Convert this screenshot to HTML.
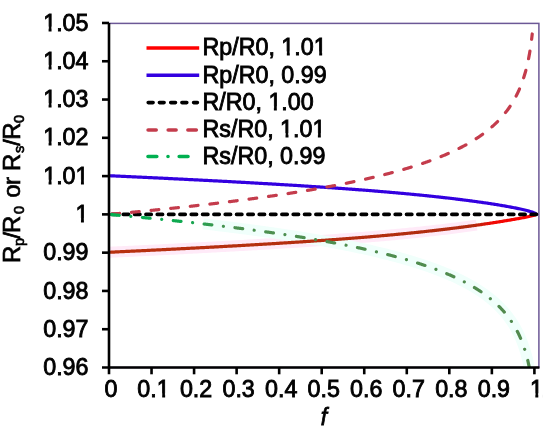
<!DOCTYPE html>
<html><head><meta charset="utf-8"><style>
html,body{margin:0;padding:0;background:#fff;}
svg{display:block;will-change:transform;}
text{font-family:"Liberation Sans",sans-serif;fill:#000;stroke:#000;font-kerning:none;white-space:pre;}
</style></head><body>
<svg width="550" height="433" viewBox="0 0 550 433">
<rect width="550" height="433" fill="#fff"/>
<defs><clipPath id="c"><rect x="109.0" y="23.4" width="429.9" height="344.1"/></clipPath><linearGradient id="gr" gradientUnits="userSpaceOnUse" x1="109" y1="0" x2="537" y2="0"><stop offset="0" stop-color="#B8300F"/><stop offset="0.85" stop-color="#B02C10"/><stop offset="0.895" stop-color="#F00A05"/><stop offset="1" stop-color="#FF0000"/></linearGradient><linearGradient id="gg" gradientUnits="userSpaceOnUse" x1="109" y1="0" x2="537" y2="0"><stop offset="0" stop-color="#00B050"/><stop offset="0.18" stop-color="#10A850"/><stop offset="0.28" stop-color="#4C9050"/><stop offset="1" stop-color="#528A4E"/></linearGradient></defs>
<rect x="109.0" y="23.4" width="429.9" height="344.1" fill="none" stroke="#6C5896" stroke-width="1.5"/>
<g clip-path="url(#c)" fill="none" stroke-width="3.2" stroke-linejoin="round">
<path d="M109.00,252.28 L110.84,252.19 L112.68,252.10 L114.51,252.02 L116.35,251.93 L118.19,251.84 L120.03,251.76 L121.87,251.67 L123.71,251.58 L125.54,251.49 L127.38,251.40 L129.22,251.32 L131.06,251.23 L132.90,251.14 L134.74,251.05 L136.57,250.96 L138.41,250.87 L140.25,250.78 L142.09,250.69 L143.93,250.60 L145.76,250.51 L147.60,250.42 L149.44,250.33 L151.28,250.24 L153.12,250.15 L154.96,250.06 L156.79,249.97 L158.63,249.88 L160.47,249.79 L162.31,249.69 L164.15,249.60 L165.99,249.51 L167.82,249.42 L169.66,249.32 L171.50,249.23 L173.34,249.14 L175.18,249.04 L177.02,248.95 L178.85,248.86 L180.69,248.76 L182.53,248.67 L184.37,248.57 L186.21,248.48 L188.04,248.38 L189.88,248.29 L191.72,248.19 L193.56,248.10 L195.40,248.00 L197.24,247.90 L199.07,247.81 L200.91,247.71 L202.75,247.61 L204.59,247.52 L206.43,247.42 L208.27,247.32 L210.10,247.22 L211.94,247.12 L213.78,247.02 L215.62,246.92 L217.46,246.82 L219.30,246.72 L221.13,246.62 L222.97,246.52 L224.81,246.42 L226.65,246.32 L228.49,246.22 L230.32,246.12 L232.16,246.02 L234.00,245.91 L235.84,245.81 L237.68,245.71 L239.52,245.60 L241.35,245.50 L243.19,245.40 L245.03,245.29 L246.87,245.19 L248.71,245.08 L250.55,244.97 L252.38,244.87 L254.22,244.76 L256.06,244.65 L257.90,244.55 L259.74,244.44 L261.57,244.33 L263.41,244.22 L265.25,244.11 L267.09,244.00 L268.93,243.89 L270.77,243.78 L272.60,243.67 L274.44,243.55 L276.28,243.44 L278.12,243.33 L279.96,243.22 L281.80,243.10 L283.63,242.99 L285.47,242.87 L287.31,242.76 L289.15,242.64 L290.99,242.52 L292.82,242.41 L294.66,242.29 L296.50,242.17 L298.34,242.05 L300.18,241.93 L302.02,241.81 L303.85,241.69 L305.69,241.57 L307.53,241.44 L309.37,241.32 L311.21,241.20 L313.05,241.07 L314.88,240.94 L316.72,240.82 L318.56,240.69 L320.40,240.56 L322.24,240.44 L324.08,240.31 L325.91,240.18 L327.75,240.05 L329.59,239.91 L331.43,239.78 L333.27,239.65 L335.10,239.51 L336.94,239.38 L338.78,239.24 L340.62,239.10 L342.46,238.97 L344.30,238.83 L346.13,238.69 L347.97,238.55 L349.81,238.40 L351.65,238.26 L353.49,238.12 L355.33,237.97 L357.16,237.83 L359.00,237.68 L360.84,237.53 L362.68,237.38 L364.52,237.23 L366.36,237.08 L368.19,236.93 L370.03,236.77 L371.87,236.62 L373.71,236.46 L375.55,236.31 L377.38,236.15 L379.22,235.99 L381.06,235.82 L382.90,235.66 L384.74,235.50 L386.58,235.33 L388.41,235.17 L390.25,235.00 L392.09,234.83 L393.93,234.66 L395.77,234.49 L397.61,234.31 L399.44,234.14 L401.28,233.96 L403.12,233.78 L404.96,233.60 L406.80,233.42 L408.63,233.24 L410.47,233.05 L412.31,232.87 L414.15,232.68 L415.99,232.49 L417.83,232.30 L419.66,232.11 L421.50,231.91 L423.34,231.71 L425.18,231.52 L427.02,231.32 L428.86,231.12 L430.69,230.91 L432.53,230.71 L434.37,230.50 L436.21,230.29 L438.05,230.08 L439.88,229.87 L441.72,229.65 L443.56,229.43 L445.40,229.21 L447.24,228.99 L449.08,228.77 L450.91,228.54 L452.75,228.32 L454.59,228.09 L456.43,227.86 L458.27,227.62 L460.11,227.39 L461.94,227.15 L463.78,226.91 L465.62,226.67 L467.46,226.42 L469.30,226.17 L471.14,225.92 L472.97,225.67 L474.81,225.42 L476.65,225.16" stroke="#FFEAF8" stroke-width="11"/>
<path d="M203.05,223.88 L204.15,224.01 L205.26,224.13 L206.36,224.26 L207.46,224.39 L208.57,224.52 L209.67,224.64 L210.77,224.77 L211.87,224.90 L212.98,225.03 L214.08,225.16 L215.18,225.29 L216.29,225.43 L217.39,225.56 L218.49,225.69 L219.60,225.82 L220.70,225.96 L221.80,226.09 L222.91,226.22 L224.01,226.36 L225.11,226.49 L226.21,226.63 L227.32,226.76 L228.42,226.90 L229.52,227.04 L230.63,227.17 L231.73,227.31 L232.83,227.45 L233.94,227.59 L235.04,227.73 L236.14,227.87 L237.24,228.01 L238.35,228.15 L239.45,228.29 L240.55,228.43 L241.66,228.58 L242.76,228.72 L243.86,228.86 L244.97,229.01 L246.07,229.15 L247.17,229.30 L248.28,229.44 L249.38,229.59 L250.48,229.73 L251.58,229.88 L252.69,230.03 L253.79,230.18 L254.89,230.33 L256.00,230.48 L257.10,230.63 L258.20,230.78 L259.31,230.93 L260.41,231.08 L261.51,231.23 L262.62,231.39 L263.72,231.54 L264.82,231.69 L265.92,231.85 L267.03,232.01 L268.13,232.16 L269.23,232.32 L270.34,232.48 L271.44,232.63 L272.54,232.79 L273.65,232.95 L274.75,233.11 L275.85,233.27 L276.96,233.44 L278.06,233.60 L279.16,233.76 L280.26,233.92 L281.37,234.09 L282.47,234.25 L283.57,234.42 L284.68,234.59 L285.78,234.75 L286.88,234.92 L287.99,235.09 L289.09,235.26 L290.19,235.43 L291.30,235.60 L292.40,235.77 L293.50,235.94 L294.60,236.12 L295.71,236.29 L296.81,236.47 L297.91,236.64 L299.02,236.82 L300.12,236.99 L301.22,237.17 L302.33,237.35 L303.43,237.53 L304.53,237.71 L305.63,237.89 L306.74,238.07 L307.84,238.26 L308.94,238.44 L310.05,238.63 L311.15,238.81 L312.25,239.00 L313.36,239.19 L314.46,239.38 L315.56,239.56 L316.67,239.75 L317.77,239.95 L318.87,240.14 L319.97,240.33 L321.08,240.53 L322.18,240.72 L323.28,240.92 L324.39,241.11 L325.49,241.31 L326.59,241.51 L327.70,241.71 L328.80,241.91 L329.90,242.12 L331.01,242.32 L332.11,242.52 L333.21,242.73 L334.31,242.94 L335.42,243.14 L336.52,243.35 L337.62,243.56 L338.73,243.77 L339.83,243.99 L340.93,244.20 L342.04,244.41 L343.14,244.63 L344.24,244.85 L345.35,245.07 L346.45,245.29 L347.55,245.51 L348.65,245.73 L349.76,245.95 L350.86,246.18 L351.96,246.40 L353.07,246.63 L354.17,246.86 L355.27,247.09 L356.38,247.32 L357.48,247.56 L358.58,247.79 L359.68,248.03 L360.79,248.26 L361.89,248.50 L362.99,248.74 L364.10,248.99 L365.20,249.23 L366.30,249.47 L367.41,249.72 L368.51,249.97 L369.61,250.22 L370.72,250.47 L371.82,250.72 L372.92,250.98 L374.02,251.23 L375.13,251.49 L376.23,251.75 L377.33,252.01 L378.44,252.28 L379.54,252.54 L380.64,252.81 L381.75,253.08 L382.85,253.35 L383.95,253.62 L385.06,253.90 L386.16,254.18 L387.26,254.45 L388.36,254.74 L389.47,255.02 L390.57,255.30 L391.67,255.59 L392.78,255.88 L393.88,256.17 L394.98,256.47 L396.09,256.76 L397.19,257.06 L398.29,257.36 L399.40,257.67 L400.50,257.97 L401.60,258.28 L402.70,258.59 L403.81,258.90 L404.91,259.22 L406.01,259.54 L407.12,259.86 L408.22,260.18 L409.32,260.51 L410.43,260.84 L411.53,261.17 L412.63,261.51 L413.74,261.84 L414.84,262.19 L415.94,262.53 L417.04,262.88 L418.15,263.23 L419.25,263.58 L420.35,263.94 L421.46,264.30 L422.56,264.66 L423.66,265.03 L424.77,265.40 L425.87,265.78 L426.97,266.16 L428.07,266.54 L429.18,266.92 L430.28,267.31 L431.38,267.71 L432.49,268.11 L433.59,268.51 L434.69,268.91 L435.80,269.33 L436.90,269.74 L438.00,270.16 L439.11,270.59 L440.21,271.02 L441.31,271.45 L442.41,271.89 L443.52,272.33 L444.62,272.78 L445.72,273.24 L446.83,273.70 L447.93,274.17 L449.03,274.64 L450.14,275.12 L451.24,275.60 L452.34,276.09 L453.45,276.59 L454.55,277.09 L455.65,277.60 L456.75,278.12 L457.86,278.64 L458.96,279.18 L460.06,279.71 L461.17,280.26 L462.27,280.82 L463.37,281.38 L464.48,281.95 L465.58,282.53 L466.68,283.12 L467.79,283.72 L468.89,284.33 L469.99,284.95 L471.09,285.57 L472.20,286.21 L473.30,286.86 L474.40,287.52 L475.51,288.20 L476.61,288.88 L477.71,289.58 L478.82,290.29 L479.92,291.02 L481.02,291.75 L482.13,292.51 L483.23,293.28 L484.33,294.06 L485.43,294.86 L486.54,295.68 L487.64,296.52 L488.74,297.37 L489.85,298.25 L490.95,299.14 L492.05,300.06 L493.16,301.00 L494.26,301.96 L495.36,302.95 L496.46,303.97 L497.57,305.01 L498.67,306.09 L499.77,307.19 L500.88,308.33 L501.98,309.51 L503.08,310.72 L504.19,311.97 L505.29,313.27 L506.39,314.61 L507.50,316.00 L508.60,317.44 L509.70,318.95 L510.80,320.51 L511.91,322.14 L513.01,323.85 L514.11,325.64 L515.22,327.52 L516.32,329.49 L517.42,331.58 L518.53,333.79 L519.63,336.14 L520.73,338.64 L521.84,341.33 L522.94,344.22 L524.04,347.36 L525.14,350.78 L526.25,354.55 L527.35,358.75 L528.45,363.48 L529.56,368.90 L530.66,375.25 L531.76,382.91 L532.87,392.60 L533.97,405.78" stroke="#F0FFFB" stroke-width="11"/>
<path d="M109.00,252.28 L110.07,252.23 L111.14,252.18 L112.21,252.13 L113.28,252.08 L114.34,252.03 L115.41,251.97 L116.48,251.92 L117.55,251.87 L118.62,251.82 L119.69,251.77 L120.76,251.72 L121.83,251.67 L122.89,251.62 L123.96,251.57 L125.03,251.52 L126.10,251.47 L127.17,251.41 L128.24,251.36 L129.31,251.31 L130.38,251.26 L131.44,251.21 L132.51,251.16 L133.58,251.11 L134.65,251.05 L135.72,251.00 L136.79,250.95 L137.86,250.90 L138.93,250.85 L139.99,250.80 L141.06,250.74 L142.13,250.69 L143.20,250.64 L144.27,250.59 L145.34,250.53 L146.41,250.48 L147.47,250.43 L148.54,250.38 L149.61,250.32 L150.68,250.27 L151.75,250.22 L152.82,250.17 L153.89,250.11 L154.96,250.06 L156.03,250.01 L157.09,249.95 L158.16,249.90 L159.23,249.85 L160.30,249.79 L161.37,249.74 L162.44,249.69 L163.51,249.63 L164.57,249.58 L165.64,249.53 L166.71,249.47 L167.78,249.42 L168.85,249.37 L169.92,249.31 L170.99,249.26 L172.06,249.20 L173.12,249.15 L174.19,249.09 L175.26,249.04 L176.33,248.99 L177.40,248.93 L178.47,248.88 L179.54,248.82 L180.61,248.77 L181.68,248.71 L182.74,248.66 L183.81,248.60 L184.88,248.55 L185.95,248.49 L187.02,248.44 L188.09,248.38 L189.16,248.33 L190.22,248.27 L191.29,248.22 L192.36,248.16 L193.43,248.10 L194.50,248.05 L195.57,247.99 L196.64,247.94 L197.71,247.88 L198.77,247.82 L199.84,247.77 L200.91,247.71 L201.98,247.65 L203.05,247.60 L204.12,247.54 L205.19,247.48 L206.26,247.43 L207.32,247.37 L208.39,247.31 L209.46,247.26 L210.53,247.20 L211.60,247.14 L212.67,247.08 L213.74,247.03 L214.81,246.97 L215.88,246.91 L216.94,246.85 L218.01,246.79 L219.08,246.74 L220.15,246.68 L221.22,246.62 L222.29,246.56 L223.36,246.50 L224.43,246.44 L225.49,246.39 L226.56,246.33 L227.63,246.27 L228.70,246.21 L229.77,246.15 L230.84,246.09 L231.91,246.03 L232.97,245.97 L234.04,245.91 L235.11,245.85 L236.18,245.79 L237.25,245.73 L238.32,245.67 L239.39,245.61 L240.46,245.55 L241.53,245.49 L242.59,245.43 L243.66,245.37 L244.73,245.31 L245.80,245.25 L246.87,245.19 L247.94,245.12 L249.01,245.06 L250.08,245.00 L251.14,244.94 L252.21,244.88 L253.28,244.81 L254.35,244.75 L255.42,244.69 L256.49,244.63 L257.56,244.57 L258.62,244.50 L259.69,244.44 L260.76,244.38 L261.83,244.31 L262.90,244.25 L263.97,244.19 L265.04,244.12 L266.11,244.06 L267.18,243.99 L268.24,243.93 L269.31,243.87 L270.38,243.80 L271.45,243.74 L272.52,243.67 L273.59,243.61 L274.66,243.54 L275.73,243.48 L276.79,243.41 L277.86,243.35 L278.93,243.28 L280.00,243.21 L281.07,243.15 L282.14,243.08 L283.21,243.01 L284.27,242.95 L285.34,242.88 L286.41,242.81 L287.48,242.75 L288.55,242.68 L289.62,242.61 L290.69,242.54 L291.76,242.47 L292.82,242.41 L293.89,242.34 L294.96,242.27 L296.03,242.20 L297.10,242.13 L298.17,242.06 L299.24,241.99 L300.31,241.92 L301.38,241.85 L302.44,241.78 L303.51,241.71 L304.58,241.64 L305.65,241.57 L306.72,241.50 L307.79,241.43 L308.86,241.35 L309.92,241.28 L310.99,241.21 L312.06,241.14 L313.13,241.06 L314.20,240.99 L315.27,240.92 L316.34,240.85 L317.41,240.77 L318.48,240.70 L319.54,240.62 L320.61,240.55 L321.68,240.47 L322.75,240.40 L323.82,240.32 L324.89,240.25 L325.96,240.17 L327.02,240.10 L328.09,240.02 L329.16,239.94 L330.23,239.87 L331.30,239.79 L332.37,239.71 L333.44,239.63 L334.51,239.56 L335.58,239.48 L336.64,239.40 L337.71,239.32 L338.78,239.24 L339.85,239.16 L340.92,239.08 L341.99,239.00 L343.06,238.92 L344.12,238.84 L345.19,238.76 L346.26,238.68 L347.33,238.60 L348.40,238.51 L349.47,238.43 L350.54,238.35 L351.61,238.27 L352.67,238.18 L353.74,238.10 L354.81,238.01 L355.88,237.93 L356.95,237.84 L358.02,237.76 L359.09,237.67 L360.16,237.59 L361.23,237.50 L362.29,237.41 L363.36,237.33 L364.43,237.24 L365.50,237.15 L366.57,237.06 L367.64,236.97 L368.71,236.88 L369.77,236.80 L370.84,236.71 L371.91,236.62 L372.98,236.52 L374.05,236.43 L375.12,236.34 L376.19,236.25 L377.26,236.16 L378.32,236.06 L379.39,235.97 L380.46,235.88 L381.53,235.78 L382.60,235.69 L383.67,235.59 L384.74,235.50 L385.81,235.40 L386.88,235.31 L387.94,235.21 L389.01,235.11 L390.08,235.01 L391.15,234.92 L392.22,234.82 L393.29,234.72 L394.36,234.62 L395.43,234.52 L396.49,234.42 L397.56,234.32 L398.63,234.21 L399.70,234.11 L400.77,234.01 L401.84,233.91 L402.91,233.80 L403.97,233.70 L405.04,233.59 L406.11,233.49 L407.18,233.38 L408.25,233.28 L409.32,233.17 L410.39,233.06 L411.46,232.95 L412.52,232.85 L413.59,232.74 L414.66,232.63 L415.73,232.52 L416.80,232.41 L417.87,232.29 L418.94,232.18 L420.01,232.07 L421.07,231.96 L422.14,231.84 L423.21,231.73 L424.28,231.61 L425.35,231.50 L426.42,231.38 L427.49,231.27 L428.56,231.15 L429.62,231.03 L430.69,230.91 L431.76,230.79 L432.83,230.67 L433.90,230.55 L434.97,230.43 L436.04,230.31 L437.11,230.19 L438.18,230.06 L439.24,229.94 L440.31,229.82 L441.38,229.69 L442.45,229.56 L443.52,229.44 L444.59,229.31 L445.66,229.18 L446.73,229.06 L447.79,228.93 L448.86,228.80 L449.93,228.67 L451.00,228.53 L452.07,228.40 L453.14,228.27 L454.21,228.14 L455.28,228.00 L456.34,227.87 L457.41,227.73 L458.48,227.60 L459.55,227.46 L460.62,227.32 L461.69,227.18 L462.76,227.04 L463.82,226.90 L464.89,226.76 L465.96,226.62 L467.03,226.48 L468.10,226.33 L469.17,226.19 L470.24,226.05 L471.31,225.90 L472.38,225.75 L473.44,225.61 L474.51,225.46 L475.58,225.31 L476.65,225.16 L477.72,225.01 L478.79,224.86 L479.86,224.71 L480.93,224.55 L481.99,224.40 L483.06,224.24 L484.13,224.09 L485.20,223.93 L486.27,223.78 L487.34,223.62 L488.41,223.46 L489.48,223.30 L490.54,223.14 L491.61,222.97 L492.68,222.81 L493.75,222.65 L494.82,222.48 L495.89,222.32 L496.96,222.15 L498.03,221.98 L499.09,221.81 L500.16,221.64 L501.23,221.47 L502.30,221.30 L503.37,221.13 L504.44,220.95 L505.51,220.78 L506.58,220.60 L507.64,220.42 L508.71,220.24 L509.78,220.06 L510.85,219.88 L511.92,219.69 L512.99,219.51 L514.06,219.32 L515.12,219.13 L516.19,218.94 L517.26,218.75 L518.33,218.56 L519.40,218.36 L520.47,218.17 L521.54,217.96 L522.61,217.76 L523.67,217.56 L524.74,217.35 L525.81,217.13 L526.88,216.92 L527.95,216.70 L529.02,216.47 L530.09,216.24 L531.16,215.99 L532.23,215.74 L533.29,215.48 L534.36,215.19 L535.43,214.86 L536.50,214.38" stroke="url(#gr)"/>
<path d="M109.00,175.72 L110.07,175.77 L111.14,175.81 L112.21,175.86 L113.28,175.91 L114.34,175.96 L115.41,176.01 L116.48,176.06 L117.55,176.11 L118.62,176.15 L119.69,176.20 L120.76,176.25 L121.83,176.30 L122.89,176.35 L123.96,176.40 L125.03,176.45 L126.10,176.50 L127.17,176.55 L128.24,176.60 L129.31,176.65 L130.38,176.70 L131.44,176.75 L132.51,176.80 L133.58,176.85 L134.65,176.90 L135.72,176.94 L136.79,176.99 L137.86,177.04 L138.93,177.09 L139.99,177.15 L141.06,177.20 L142.13,177.25 L143.20,177.30 L144.27,177.35 L145.34,177.40 L146.41,177.45 L147.47,177.50 L148.54,177.55 L149.61,177.60 L150.68,177.65 L151.75,177.70 L152.82,177.75 L153.89,177.80 L154.96,177.85 L156.03,177.91 L157.09,177.96 L158.16,178.01 L159.23,178.06 L160.30,178.11 L161.37,178.16 L162.44,178.21 L163.51,178.27 L164.57,178.32 L165.64,178.37 L166.71,178.42 L167.78,178.47 L168.85,178.53 L169.92,178.58 L170.99,178.63 L172.06,178.68 L173.12,178.74 L174.19,178.79 L175.26,178.84 L176.33,178.89 L177.40,178.95 L178.47,179.00 L179.54,179.05 L180.61,179.10 L181.68,179.16 L182.74,179.21 L183.81,179.26 L184.88,179.32 L185.95,179.37 L187.02,179.42 L188.09,179.48 L189.16,179.53 L190.22,179.58 L191.29,179.64 L192.36,179.69 L193.43,179.75 L194.50,179.80 L195.57,179.85 L196.64,179.91 L197.71,179.96 L198.77,180.02 L199.84,180.07 L200.91,180.13 L201.98,180.18 L203.05,180.24 L204.12,180.29 L205.19,180.35 L206.26,180.40 L207.32,180.46 L208.39,180.51 L209.46,180.57 L210.53,180.62 L211.60,180.68 L212.67,180.73 L213.74,180.79 L214.81,180.85 L215.88,180.90 L216.94,180.96 L218.01,181.01 L219.08,181.07 L220.15,181.13 L221.22,181.18 L222.29,181.24 L223.36,181.30 L224.43,181.35 L225.49,181.41 L226.56,181.47 L227.63,181.52 L228.70,181.58 L229.77,181.64 L230.84,181.70 L231.91,181.75 L232.97,181.81 L234.04,181.87 L235.11,181.93 L236.18,181.99 L237.25,182.04 L238.32,182.10 L239.39,182.16 L240.46,182.22 L241.53,182.28 L242.59,182.34 L243.66,182.40 L244.73,182.45 L245.80,182.51 L246.87,182.57 L247.94,182.63 L249.01,182.69 L250.08,182.75 L251.14,182.81 L252.21,182.87 L253.28,182.93 L254.35,182.99 L255.42,183.05 L256.49,183.11 L257.56,183.17 L258.62,183.23 L259.69,183.29 L260.76,183.36 L261.83,183.42 L262.90,183.48 L263.97,183.54 L265.04,183.60 L266.11,183.66 L267.18,183.72 L268.24,183.79 L269.31,183.85 L270.38,183.91 L271.45,183.97 L272.52,184.04 L273.59,184.10 L274.66,184.16 L275.73,184.22 L276.79,184.29 L277.86,184.35 L278.93,184.42 L280.00,184.48 L281.07,184.54 L282.14,184.61 L283.21,184.67 L284.27,184.74 L285.34,184.80 L286.41,184.87 L287.48,184.93 L288.55,185.00 L289.62,185.06 L290.69,185.13 L291.76,185.19 L292.82,185.26 L293.89,185.32 L294.96,185.39 L296.03,185.46 L297.10,185.52 L298.17,185.59 L299.24,185.66 L300.31,185.72 L301.38,185.79 L302.44,185.86 L303.51,185.93 L304.58,185.99 L305.65,186.06 L306.72,186.13 L307.79,186.20 L308.86,186.27 L309.92,186.34 L310.99,186.41 L312.06,186.48 L313.13,186.55 L314.20,186.62 L315.27,186.69 L316.34,186.76 L317.41,186.83 L318.48,186.90 L319.54,186.97 L320.61,187.04 L321.68,187.11 L322.75,187.18 L323.82,187.25 L324.89,187.33 L325.96,187.40 L327.02,187.47 L328.09,187.55 L329.16,187.62 L330.23,187.69 L331.30,187.77 L332.37,187.84 L333.44,187.91 L334.51,187.99 L335.58,188.06 L336.64,188.14 L337.71,188.21 L338.78,188.29 L339.85,188.36 L340.92,188.44 L341.99,188.52 L343.06,188.59 L344.12,188.67 L345.19,188.75 L346.26,188.83 L347.33,188.90 L348.40,188.98 L349.47,189.06 L350.54,189.14 L351.61,189.22 L352.67,189.30 L353.74,189.38 L354.81,189.46 L355.88,189.54 L356.95,189.62 L358.02,189.70 L359.09,189.78 L360.16,189.86 L361.23,189.94 L362.29,190.02 L363.36,190.11 L364.43,190.19 L365.50,190.27 L366.57,190.36 L367.64,190.44 L368.71,190.53 L369.77,190.61 L370.84,190.69 L371.91,190.78 L372.98,190.87 L374.05,190.95 L375.12,191.04 L376.19,191.13 L377.26,191.21 L378.32,191.30 L379.39,191.39 L380.46,191.48 L381.53,191.57 L382.60,191.65 L383.67,191.74 L384.74,191.83 L385.81,191.92 L386.88,192.02 L387.94,192.11 L389.01,192.20 L390.08,192.29 L391.15,192.38 L392.22,192.48 L393.29,192.57 L394.36,192.66 L395.43,192.76 L396.49,192.85 L397.56,192.95 L398.63,193.04 L399.70,193.14 L400.77,193.24 L401.84,193.33 L402.91,193.43 L403.97,193.53 L405.04,193.63 L406.11,193.73 L407.18,193.83 L408.25,193.93 L409.32,194.03 L410.39,194.13 L411.46,194.23 L412.52,194.33 L413.59,194.43 L414.66,194.54 L415.73,194.64 L416.80,194.74 L417.87,194.85 L418.94,194.95 L420.01,195.06 L421.07,195.17 L422.14,195.27 L423.21,195.38 L424.28,195.49 L425.35,195.60 L426.42,195.71 L427.49,195.82 L428.56,195.93 L429.62,196.04 L430.69,196.15 L431.76,196.26 L432.83,196.38 L433.90,196.49 L434.97,196.61 L436.04,196.72 L437.11,196.84 L438.18,196.95 L439.24,197.07 L440.31,197.19 L441.38,197.31 L442.45,197.43 L443.52,197.54 L444.59,197.67 L445.66,197.79 L446.73,197.91 L447.79,198.03 L448.86,198.16 L449.93,198.28 L451.00,198.40 L452.07,198.53 L453.14,198.66 L454.21,198.78 L455.28,198.91 L456.34,199.04 L457.41,199.17 L458.48,199.30 L459.55,199.43 L460.62,199.57 L461.69,199.70 L462.76,199.83 L463.82,199.97 L464.89,200.11 L465.96,200.24 L467.03,200.38 L468.10,200.52 L469.17,200.66 L470.24,200.80 L471.31,200.94 L472.38,201.08 L473.44,201.23 L474.51,201.37 L475.58,201.52 L476.65,201.67 L477.72,201.81 L478.79,201.96 L479.86,202.11 L480.93,202.26 L481.99,202.42 L483.06,202.57 L484.13,202.73 L485.20,202.88 L486.27,203.04 L487.34,203.20 L488.41,203.36 L489.48,203.52 L490.54,203.68 L491.61,203.85 L492.68,204.01 L493.75,204.18 L494.82,204.35 L495.89,204.52 L496.96,204.69 L498.03,204.87 L499.09,205.04 L500.16,205.22 L501.23,205.40 L502.30,205.58 L503.37,205.76 L504.44,205.95 L505.51,206.13 L506.58,206.32 L507.64,206.51 L508.71,206.71 L509.78,206.90 L510.85,207.10 L511.92,207.31 L512.99,207.51 L514.06,207.72 L515.12,207.93 L516.19,208.14 L517.26,208.36 L518.33,208.58 L519.40,208.81 L520.47,209.04 L521.54,209.28 L522.61,209.52 L523.67,209.77 L524.74,210.02 L525.81,210.28 L526.88,210.55 L527.95,210.83 L529.02,211.13 L530.09,211.43 L531.16,211.76 L532.23,212.11 L533.29,212.49 L534.36,212.91 L535.43,213.43 L536.50,214.38" stroke="#3300E0"/>
<path d="M100.57,214.38 L541.90,214.38" stroke="#000" stroke-width="3.6" stroke-linecap="round" stroke-dasharray="5.4 5.93"/>
<path d="M109.00,214.38 L109.53,214.33 L110.06,214.29 L110.59,214.24 L111.12,214.19 L111.65,214.14 L112.17,214.09 L112.70,214.05 L113.23,214.00 L113.76,213.95 L114.29,213.90 L114.82,213.86 L115.35,213.81 L115.88,213.76 L116.41,213.71 L116.94,213.66 L117.46,213.61 L117.99,213.57 L118.52,213.52 L119.05,213.47 L119.58,213.42 L120.11,213.37 L120.64,213.32 L121.17,213.27 L121.70,213.23 L122.23,213.18 L122.75,213.13 L123.28,213.08 L123.81,213.03 L124.34,212.98 L124.87,212.93 L125.40,212.88 L125.93,212.83 L126.46,212.78 L126.99,212.73 L127.52,212.68 L128.05,212.64 L128.57,212.59 L129.10,212.54 L129.63,212.49 L130.16,212.44 L130.69,212.39 L131.22,212.34 L131.75,212.29 L132.28,212.24 L132.81,212.19 L133.34,212.14 L133.86,212.09 L134.39,212.04 L134.92,211.98 L135.45,211.93 L135.98,211.88 L136.51,211.83 L137.04,211.78 L137.57,211.73 L138.10,211.68 L138.63,211.63 L139.15,211.58 L139.68,211.53 L140.21,211.48 L140.74,211.43 L141.27,211.37 L141.80,211.32 L142.33,211.27 L142.86,211.22 L143.39,211.17 L143.92,211.12 L144.45,211.07 L144.97,211.01 L145.50,210.96 L146.03,210.91 L146.56,210.86 L147.09,210.81 L147.62,210.75 L148.15,210.70 L148.68,210.65 L149.21,210.60 L149.74,210.54 L150.26,210.49 L150.79,210.44 L151.32,210.39 L151.85,210.33 L152.38,210.28 L152.91,210.23 L153.44,210.18 L153.97,210.12 L154.50,210.07 L155.03,210.02 L155.55,209.96 L156.08,209.91 L156.61,209.86 L157.14,209.80 L157.67,209.75 L158.20,209.70 L158.73,209.64 L159.26,209.59 L159.79,209.54 L160.32,209.48 L160.85,209.43 L161.37,209.37 L161.90,209.32 L162.43,209.27 L162.96,209.21 L163.49,209.16 L164.02,209.10 L164.55,209.05 L165.08,208.99 L165.61,208.94 L166.14,208.88 L166.66,208.83 L167.19,208.77 L167.72,208.72 L168.25,208.66 L168.78,208.61 L169.31,208.55 L169.84,208.50 L170.37,208.44 L170.90,208.39 L171.43,208.33 L171.95,208.28 L172.48,208.22 L173.01,208.17 L173.54,208.11 L174.07,208.05 L174.60,208.00 L175.13,207.94 L175.66,207.89 L176.19,207.83 L176.72,207.77 L177.25,207.72 L177.77,207.66 L178.30,207.60 L178.83,207.55 L179.36,207.49 L179.89,207.43 L180.42,207.38 L180.95,207.32 L181.48,207.26 L182.01,207.20 L182.54,207.15 L183.06,207.09 L183.59,207.03 L184.12,206.98 L184.65,206.92 L185.18,206.86 L185.71,206.80 L186.24,206.74 L186.77,206.69 L187.30,206.63 L187.83,206.57 L188.35,206.51 L188.88,206.45 L189.41,206.39 L189.94,206.34 L190.47,206.28 L191.00,206.22 L191.53,206.16 L192.06,206.10 L192.59,206.04 L193.12,205.98 L193.65,205.92 L194.17,205.87 L194.70,205.81 L195.23,205.75 L195.76,205.69 L196.29,205.63 L196.82,205.57 L197.35,205.51 L197.88,205.45 L198.41,205.39 L198.94,205.33 L199.46,205.27 L199.99,205.21 L200.52,205.15 L201.05,205.09 L201.58,205.03 L202.11,204.97 L202.64,204.90 L203.17,204.84 L203.70,204.78 L204.23,204.72 L204.75,204.66 L205.28,204.60 L205.81,204.54 L206.34,204.48 L206.87,204.41 L207.40,204.35 L207.93,204.29 L208.46,204.23 L208.99,204.17 L209.52,204.11 L210.04,204.04 L210.57,203.98 L211.10,203.92 L211.63,203.86 L212.16,203.79 L212.69,203.73 L213.22,203.67 L213.75,203.61 L214.28,203.54 L214.81,203.48 L215.34,203.42 L215.86,203.35 L216.39,203.29 L216.92,203.23 L217.45,203.16 L217.98,203.10 L218.51,203.03 L219.04,202.97 L219.57,202.91 L220.10,202.84 L220.63,202.78 L221.15,202.71 L221.68,202.65 L222.21,202.59 L222.74,202.52 L223.27,202.46 L223.80,202.39 L224.33,202.33 L224.86,202.26 L225.39,202.20 L225.92,202.13 L226.44,202.06 L226.97,202.00 L227.50,201.93 L228.03,201.87 L228.56,201.80 L229.09,201.74 L229.62,201.67 L230.15,201.60 L230.68,201.54 L231.21,201.47 L231.74,201.40 L232.26,201.34 L232.79,201.27 L233.32,201.20 L233.85,201.14 L234.38,201.07 L234.91,201.00 L235.44,200.93 L235.97,200.87 L236.50,200.80 L237.03,200.73 L237.55,200.66 L238.08,200.59 L238.61,200.53 L239.14,200.46 L239.67,200.39 L240.20,200.32 L240.73,200.25 L241.26,200.18 L241.79,200.12 L242.32,200.05 L242.84,199.98 L243.37,199.91 L243.90,199.84 L244.43,199.77 L244.96,199.70 L245.49,199.63 L246.02,199.56 L246.55,199.49 L247.08,199.42 L247.61,199.35 L248.14,199.28 L248.66,199.21 L249.19,199.14 L249.72,199.07 L250.25,199.00 L250.78,198.92 L251.31,198.85 L251.84,198.78 L252.37,198.71 L252.90,198.64 L253.43,198.57 L253.95,198.49 L254.48,198.42 L255.01,198.35 L255.54,198.28 L256.07,198.21 L256.60,198.13 L257.13,198.06 L257.66,197.99 L258.19,197.91 L258.72,197.84 L259.24,197.77 L259.77,197.69 L260.30,197.62 L260.83,197.55 L261.36,197.47 L261.89,197.40 L262.42,197.33 L262.95,197.25 L263.48,197.18 L264.01,197.10 L264.54,197.03 L265.06,196.95 L265.59,196.88 L266.12,196.80 L266.65,196.73 L267.18,196.65 L267.71,196.58 L268.24,196.50 L268.77,196.42 L269.30,196.35 L269.83,196.27 L270.35,196.20 L270.88,196.12 L271.41,196.04 L271.94,195.97 L272.47,195.89 L273.00,195.81 L273.53,195.73 L274.06,195.66 L274.59,195.58 L275.12,195.50 L275.64,195.42 L276.17,195.35 L276.70,195.27 L277.23,195.19 L277.76,195.11 L278.29,195.03 L278.82,194.95 L279.35,194.87 L279.88,194.79 L280.41,194.71 L280.94,194.64 L281.46,194.56 L281.99,194.48 L282.52,194.40 L283.05,194.32 L283.58,194.23 L284.11,194.15 L284.64,194.07 L285.17,193.99 L285.70,193.91 L286.23,193.83 L286.75,193.75 L287.28,193.67 L287.81,193.59 L288.34,193.50 L288.87,193.42 L289.40,193.34 L289.93,193.26 L290.46,193.17 L290.99,193.09 L291.52,193.01 L292.04,192.92 L292.57,192.84 L293.10,192.76 L293.63,192.67 L294.16,192.59 L294.69,192.51 L295.22,192.42 L295.75,192.34 L296.28,192.25 L296.81,192.17 L297.34,192.08 L297.86,192.00 L298.39,191.91 L298.92,191.83 L299.45,191.74 L299.98,191.65 L300.51,191.57 L301.04,191.48 L301.57,191.39 L302.10,191.31 L302.63,191.22 L303.15,191.13 L303.68,191.05 L304.21,190.96 L304.74,190.87 L305.27,190.78 L305.80,190.69 L306.33,190.61 L306.86,190.52 L307.39,190.43 L307.92,190.34 L308.44,190.25 L308.97,190.16 L309.50,190.07 L310.03,189.98 L310.56,189.89 L311.09,189.80 L311.62,189.71 L312.15,189.62 L312.68,189.53 L313.21,189.44 L313.74,189.35 L314.26,189.25 L314.79,189.16 L315.32,189.07 L315.85,188.98 L316.38,188.89 L316.91,188.79 L317.44,188.70 L317.97,188.61 L318.50,188.51 L319.03,188.42 L319.55,188.33 L320.08,188.23 L320.61,188.14 L321.14,188.04 L321.67,187.95 L322.20,187.85 L322.73,187.76 L323.26,187.66 L323.79,187.57 L324.32,187.47 L324.84,187.37 L325.37,187.28 L325.90,187.18 L326.43,187.08 L326.96,186.99 L327.49,186.89 L328.02,186.79 L328.55,186.69 L329.08,186.60 L329.61,186.50 L330.14,186.40 L330.66,186.30 L331.19,186.20 L331.72,186.10 L332.25,186.00 L332.78,185.90 L333.31,185.80 L333.84,185.70 L334.37,185.60 L334.90,185.50 L335.43,185.40 L335.95,185.30 L336.48,185.19 L337.01,185.09 L337.54,184.99 L338.07,184.89 L338.60,184.78 L339.13,184.68 L339.66,184.58 L340.19,184.47 L340.72,184.37 L341.24,184.26 L341.77,184.16 L342.30,184.05 L342.83,183.95 L343.36,183.84 L343.89,183.74 L344.42,183.63 L344.95,183.53 L345.48,183.42 L346.01,183.31 L346.54,183.20 L347.06,183.10 L347.59,182.99 L348.12,182.88 L348.65,182.77 L349.18,182.66 L349.71,182.55 L350.24,182.44 L350.77,182.33 L351.30,182.22 L351.83,182.11 L352.35,182.00 L352.88,181.89 L353.41,181.78 L353.94,181.67 L354.47,181.56 L355.00,181.44 L355.53,181.33 L356.06,181.22 L356.59,181.11 L357.12,180.99 L357.64,180.88 L358.17,180.76 L358.70,180.65 L359.23,180.53 L359.76,180.42 L360.29,180.30 L360.82,180.19 L361.35,180.07 L361.88,179.95 L362.41,179.84 L362.94,179.72 L363.46,179.60 L363.99,179.48 L364.52,179.36 L365.05,179.24 L365.58,179.13 L366.11,179.01 L366.64,178.89 L367.17,178.76 L367.70,178.64 L368.23,178.52 L368.75,178.40 L369.28,178.28 L369.81,178.16 L370.34,178.03 L370.87,177.91 L371.40,177.79 L371.93,177.66 L372.46,177.54 L372.99,177.41 L373.52,177.29 L374.04,177.16 L374.57,177.04 L375.10,176.91 L375.63,176.78 L376.16,176.66 L376.69,176.53 L377.22,176.40 L377.75,176.27 L378.28,176.14 L378.81,176.01 L379.33,175.88 L379.86,175.75 L380.39,175.62 L380.92,175.49 L381.45,175.36 L381.98,175.23 L382.51,175.09 L383.04,174.96 L383.57,174.83 L384.10,174.69 L384.63,174.56 L385.15,174.42 L385.68,174.29 L386.21,174.15 L386.74,174.02 L387.27,173.88 L387.80,173.74 L388.33,173.60 L388.86,173.47 L389.39,173.33 L389.92,173.19 L390.44,173.05 L390.97,172.91 L391.50,172.77 L392.03,172.62 L392.56,172.48 L393.09,172.34 L393.62,172.20 L394.15,172.05 L394.68,171.91 L395.21,171.76 L395.73,171.62 L396.26,171.47 L396.79,171.33 L397.32,171.18 L397.85,171.03 L398.38,170.88 L398.91,170.74 L399.44,170.59 L399.97,170.44 L400.50,170.29 L401.03,170.14 L401.55,169.98 L402.08,169.83 L402.61,169.68 L403.14,169.53 L403.67,169.37 L404.20,169.22 L404.73,169.06 L405.26,168.91 L405.79,168.75 L406.32,168.59 L406.84,168.44 L407.37,168.28 L407.90,168.12 L408.43,167.96 L408.96,167.80 L409.49,167.64 L410.02,167.48 L410.55,167.31 L411.08,167.15 L411.61,166.99 L412.13,166.82 L412.66,166.66 L413.19,166.49 L413.72,166.32 L414.25,166.16 L414.78,165.99 L415.31,165.82 L415.84,165.65 L416.37,165.48 L416.90,165.31 L417.43,165.14 L417.95,164.96 L418.48,164.79 L419.01,164.62 L419.54,164.44 L420.07,164.27 L420.60,164.09 L421.13,163.91 L421.66,163.73 L422.19,163.55 L422.72,163.37 L423.24,163.19 L423.77,163.01 L424.30,162.83 L424.83,162.65 L425.36,162.46 L425.89,162.28 L426.42,162.09 L426.95,161.90 L427.48,161.72 L428.01,161.53 L428.53,161.34 L429.06,161.15 L429.59,160.95 L430.12,160.76 L430.65,160.57 L431.18,160.37 L431.71,160.18 L432.24,159.98 L432.77,159.78 L433.30,159.59 L433.83,159.39 L434.35,159.19 L434.88,158.98 L435.41,158.78 L435.94,158.58 L436.47,158.37 L437.00,158.17 L437.53,157.96 L438.06,157.75 L438.59,157.54 L439.12,157.33 L439.64,157.12 L440.17,156.91 L440.70,156.69 L441.23,156.48 L441.76,156.26 L442.29,156.04 L442.82,155.83 L443.35,155.61 L443.88,155.38 L444.41,155.16 L444.93,154.94 L445.46,154.71 L445.99,154.49 L446.52,154.26 L447.05,154.03 L447.58,153.80 L448.11,153.57 L448.64,153.33 L449.17,153.10 L449.70,152.86 L450.23,152.62 L450.75,152.38 L451.28,152.14 L451.81,151.90 L452.34,151.66 L452.87,151.41 L453.40,151.16 L453.93,150.92 L454.46,150.67 L454.99,150.41 L455.52,150.16 L456.04,149.91 L456.57,149.65 L457.10,149.39 L457.63,149.13 L458.16,148.87 L458.69,148.60 L459.22,148.34 L459.75,148.07 L460.28,147.80 L460.81,147.53 L461.33,147.26 L461.86,146.98 L462.39,146.71 L462.92,146.43 L463.45,146.14 L463.98,145.86 L464.51,145.58 L465.04,145.29 L465.57,145.00 L466.10,144.71 L466.63,144.41 L467.15,144.12 L467.68,143.82 L468.21,143.52 L468.74,143.21 L469.27,142.91 L469.80,142.60 L470.33,142.29 L470.86,141.98 L471.39,141.66 L471.92,141.34 L472.44,141.02 L472.97,140.70 L473.50,140.37 L474.03,140.04 L474.56,139.71 L475.09,139.38 L475.62,139.04 L476.15,138.70 L476.68,138.36 L477.21,138.01 L477.73,137.66 L478.26,137.31 L478.79,136.95 L479.32,136.59 L479.85,136.23 L480.38,135.86 L480.91,135.49 L481.44,135.12 L481.97,134.74 L482.50,134.36 L483.03,133.97 L483.55,133.58 L484.08,133.19 L484.61,132.80 L485.14,132.39 L485.67,131.99 L486.20,131.58 L486.73,131.17 L487.26,130.75 L487.79,130.33 L488.32,129.90 L488.84,129.47 L489.37,129.03 L489.90,128.59 L490.43,128.14 L490.96,127.69 L491.49,127.23 L492.02,126.77 L492.55,126.30 L493.08,125.83 L493.61,125.35 L494.13,124.86 L494.66,124.37 L495.19,123.87 L495.72,123.36 L496.25,122.85 L496.78,122.33 L497.31,121.81 L497.84,121.28 L498.37,120.73 L498.90,120.19 L499.43,119.63 L499.95,119.07 L500.48,118.50 L501.01,117.91 L501.54,117.33 L502.07,116.73 L502.60,116.12 L503.13,115.50 L503.66,114.87 L504.19,114.24 L504.72,113.59 L505.24,112.93 L505.77,112.26 L506.30,111.57 L506.83,110.88 L507.36,110.17 L507.89,109.45 L508.42,108.72 L508.95,107.97 L509.48,107.21 L510.01,106.43 L510.53,105.63 L511.06,104.82 L511.59,104.00 L512.12,103.15 L512.65,102.29 L513.18,101.40 L513.71,100.50 L514.24,99.57 L514.77,98.62 L515.30,97.65 L515.83,96.65 L516.35,95.63 L516.88,94.58 L517.41,93.50 L517.94,92.39 L518.47,91.25 L519.00,90.07 L519.53,88.86 L520.06,87.61 L520.59,86.31 L521.12,84.98 L521.64,83.59 L522.17,82.16 L522.70,80.66 L523.23,79.12 L523.76,77.50 L524.29,75.82 L524.82,74.06 L525.35,72.22 L525.88,70.29 L526.41,68.26 L526.93,66.12 L527.46,63.86 L527.99,61.46 L528.52,58.90 L529.05,56.17 L529.58,53.23 L530.11,50.06 L530.64,46.61 L531.17,42.83 L531.70,38.65 L532.23,33.97" stroke="#C43C4C" stroke-linecap="round" stroke-dasharray="7.8 11.92" stroke-dashoffset="16.92"/>
<path d="M109.00,214.38 L109.53,214.43 L110.06,214.48 L110.59,214.52 L111.12,214.57 L111.66,214.62 L112.19,214.67 L112.72,214.71 L113.25,214.76 L113.78,214.81 L114.31,214.86 L114.84,214.91 L115.37,214.96 L115.91,215.00 L116.44,215.05 L116.97,215.10 L117.50,215.15 L118.03,215.20 L118.56,215.25 L119.09,215.29 L119.62,215.34 L120.16,215.39 L120.69,215.44 L121.22,215.49 L121.75,215.54 L122.28,215.59 L122.81,215.64 L123.34,215.69 L123.87,215.74 L124.41,215.78 L124.94,215.83 L125.47,215.88 L126.00,215.93 L126.53,215.98 L127.06,216.03 L127.59,216.08 L128.12,216.13 L128.65,216.18 L129.19,216.23 L129.72,216.28 L130.25,216.33 L130.78,216.38 L131.31,216.43 L131.84,216.48 L132.37,216.53 L132.90,216.58 L133.44,216.63 L133.97,216.68 L134.50,216.73 L135.03,216.78 L135.56,216.83 L136.09,216.89 L136.62,216.94 L137.15,216.99 L137.69,217.04 L138.22,217.09 L138.75,217.14 L139.28,217.19 L139.81,217.24 L140.34,217.29 L140.87,217.34 L141.40,217.40 L141.94,217.45 L142.47,217.50 L143.00,217.55 L143.53,217.60 L144.06,217.65 L144.59,217.71 L145.12,217.76 L145.65,217.81 L146.18,217.86 L146.72,217.91 L147.25,217.97 L147.78,218.02 L148.31,218.07 L148.84,218.12 L149.37,218.18 L149.90,218.23 L150.43,218.28 L150.97,218.33 L151.50,218.39 L152.03,218.44 L152.56,218.49 L153.09,218.54 L153.62,218.60 L154.15,218.65 L154.68,218.70 L155.22,218.76 L155.75,218.81 L156.28,218.86 L156.81,218.92 L157.34,218.97 L157.87,219.02 L158.40,219.08 L158.93,219.13 L159.47,219.19 L160.00,219.24 L160.53,219.29 L161.06,219.35 L161.59,219.40 L162.12,219.46 L162.65,219.51 L163.18,219.56 L163.71,219.62 L164.25,219.67 L164.78,219.73 L165.31,219.78 L165.84,219.84 L166.37,219.89 L166.90,219.95 L167.43,220.00 L167.96,220.06 L168.50,220.11 L169.03,220.17 L169.56,220.22 L170.09,220.28 L170.62,220.33 L171.15,220.39 L171.68,220.44 L172.21,220.50 L172.75,220.56 L173.28,220.61 L173.81,220.67 L174.34,220.72 L174.87,220.78 L175.40,220.84 L175.93,220.89 L176.46,220.95 L177.00,221.01 L177.53,221.06 L178.06,221.12 L178.59,221.18 L179.12,221.23 L179.65,221.29 L180.18,221.35 L180.71,221.40 L181.24,221.46 L181.78,221.52 L182.31,221.57 L182.84,221.63 L183.37,221.69 L183.90,221.75 L184.43,221.80 L184.96,221.86 L185.49,221.92 L186.03,221.98 L186.56,222.04 L187.09,222.09 L187.62,222.15 L188.15,222.21 L188.68,222.27 L189.21,222.33 L189.74,222.38 L190.28,222.44 L190.81,222.50 L191.34,222.56 L191.87,222.62 L192.40,222.68 L192.93,222.74 L193.46,222.80 L193.99,222.86 L194.53,222.92 L195.06,222.97 L195.59,223.03 L196.12,223.09 L196.65,223.15 L197.18,223.21 L197.71,223.27 L198.24,223.33 L198.77,223.39 L199.31,223.45 L199.84,223.51 L200.37,223.57 L200.90,223.63 L201.43,223.69 L201.96,223.75 L202.49,223.82 L203.02,223.88 L203.56,223.94 L204.09,224.00 L204.62,224.06 L205.15,224.12 L205.68,224.18 L206.21,224.24 L206.74,224.30 L207.27,224.37 L207.81,224.43 L208.34,224.49 L208.87,224.55 L209.40,224.61 L209.93,224.68 L210.46,224.74 L210.99,224.80 L211.52,224.86 L212.05,224.92 L212.59,224.99 L213.12,225.05 L213.65,225.11 L214.18,225.18 L214.71,225.24 L215.24,225.30 L215.77,225.36 L216.30,225.43 L216.84,225.49 L217.37,225.55 L217.90,225.62 L218.43,225.68 L218.96,225.75 L219.49,225.81 L220.02,225.87 L220.55,225.94 L221.09,226.00 L221.62,226.07 L222.15,226.13 L222.68,226.20 L223.21,226.26 L223.74,226.32 L224.27,226.39 L224.80,226.45 L225.34,226.52 L225.87,226.58 L226.40,226.65 L226.93,226.72 L227.46,226.78 L227.99,226.85 L228.52,226.91 L229.05,226.98 L229.58,227.04 L230.12,227.11 L230.65,227.18 L231.18,227.24 L231.71,227.31 L232.24,227.38 L232.77,227.44 L233.30,227.51 L233.83,227.58 L234.37,227.64 L234.90,227.71 L235.43,227.78 L235.96,227.85 L236.49,227.91 L237.02,227.98 L237.55,228.05 L238.08,228.12 L238.62,228.18 L239.15,228.25 L239.68,228.32 L240.21,228.39 L240.74,228.46 L241.27,228.53 L241.80,228.59 L242.33,228.66 L242.87,228.73 L243.40,228.80 L243.93,228.87 L244.46,228.94 L244.99,229.01 L245.52,229.08 L246.05,229.15 L246.58,229.22 L247.11,229.29 L247.65,229.36 L248.18,229.43 L248.71,229.50 L249.24,229.57 L249.77,229.64 L250.30,229.71 L250.83,229.78 L251.36,229.85 L251.90,229.92 L252.43,229.99 L252.96,230.07 L253.49,230.14 L254.02,230.21 L254.55,230.28 L255.08,230.35 L255.61,230.42 L256.15,230.50 L256.68,230.57 L257.21,230.64 L257.74,230.71 L258.27,230.79 L258.80,230.86 L259.33,230.93 L259.86,231.01 L260.40,231.08 L260.93,231.15 L261.46,231.23 L261.99,231.30 L262.52,231.37 L263.05,231.45 L263.58,231.52 L264.11,231.60 L264.64,231.67 L265.18,231.74 L265.71,231.82 L266.24,231.89 L266.77,231.97 L267.30,232.04 L267.83,232.12 L268.36,232.19 L268.89,232.27 L269.43,232.35 L269.96,232.42 L270.49,232.50 L271.02,232.57 L271.55,232.65 L272.08,232.73 L272.61,232.80 L273.14,232.88 L273.68,232.96 L274.21,233.03 L274.74,233.11 L275.27,233.19 L275.80,233.27 L276.33,233.34 L276.86,233.42 L277.39,233.50 L277.93,233.58 L278.46,233.66 L278.99,233.73 L279.52,233.81 L280.05,233.89 L280.58,233.97 L281.11,234.05 L281.64,234.13 L282.17,234.21 L282.71,234.29 L283.24,234.37 L283.77,234.45 L284.30,234.53 L284.83,234.61 L285.36,234.69 L285.89,234.77 L286.42,234.85 L286.96,234.93 L287.49,235.01 L288.02,235.09 L288.55,235.18 L289.08,235.26 L289.61,235.34 L290.14,235.42 L290.67,235.50 L291.21,235.59 L291.74,235.67 L292.27,235.75 L292.80,235.83 L293.33,235.92 L293.86,236.00 L294.39,236.08 L294.92,236.17 L295.46,236.25 L295.99,236.33 L296.52,236.42 L297.05,236.50 L297.58,236.59 L298.11,236.67 L298.64,236.76 L299.17,236.84 L299.70,236.93 L300.24,237.01 L300.77,237.10 L301.30,237.18 L301.83,237.27 L302.36,237.36 L302.89,237.44 L303.42,237.53 L303.95,237.62 L304.49,237.70 L305.02,237.79 L305.55,237.88 L306.08,237.97 L306.61,238.05 L307.14,238.14 L307.67,238.23 L308.20,238.32 L308.74,238.41 L309.27,238.50 L309.80,238.58 L310.33,238.67 L310.86,238.76 L311.39,238.85 L311.92,238.94 L312.45,239.03 L312.99,239.12 L313.52,239.21 L314.05,239.30 L314.58,239.40 L315.11,239.49 L315.64,239.58 L316.17,239.67 L316.70,239.76 L317.23,239.85 L317.77,239.95 L318.30,240.04 L318.83,240.13 L319.36,240.22 L319.89,240.32 L320.42,240.41 L320.95,240.50 L321.48,240.60 L322.02,240.69 L322.55,240.79 L323.08,240.88 L323.61,240.98 L324.14,241.07 L324.67,241.17 L325.20,241.26 L325.73,241.36 L326.27,241.45 L326.80,241.55 L327.33,241.64 L327.86,241.74 L328.39,241.84 L328.92,241.94 L329.45,242.03 L329.98,242.13 L330.52,242.23 L331.05,242.33 L331.58,242.42 L332.11,242.52 L332.64,242.62 L333.17,242.72 L333.70,242.82 L334.23,242.92 L334.76,243.02 L335.30,243.12 L335.83,243.22 L336.36,243.32 L336.89,243.42 L337.42,243.52 L337.95,243.63 L338.48,243.73 L339.01,243.83 L339.55,243.93 L340.08,244.03 L340.61,244.14 L341.14,244.24 L341.67,244.34 L342.20,244.45 L342.73,244.55 L343.26,244.66 L343.80,244.76 L344.33,244.86 L344.86,244.97 L345.39,245.08 L345.92,245.18 L346.45,245.29 L346.98,245.39 L347.51,245.50 L348.05,245.61 L348.58,245.71 L349.11,245.82 L349.64,245.93 L350.17,246.04 L350.70,246.15 L351.23,246.25 L351.76,246.36 L352.29,246.47 L352.83,246.58 L353.36,246.69 L353.89,246.80 L354.42,246.91 L354.95,247.02 L355.48,247.14 L356.01,247.25 L356.54,247.36 L357.08,247.47 L357.61,247.58 L358.14,247.70 L358.67,247.81 L359.20,247.92 L359.73,248.04 L360.26,248.15 L360.79,248.27 L361.33,248.38 L361.86,248.50 L362.39,248.61 L362.92,248.73 L363.45,248.84 L363.98,248.96 L364.51,249.08 L365.04,249.19 L365.58,249.31 L366.11,249.43 L366.64,249.55 L367.17,249.67 L367.70,249.79 L368.23,249.91 L368.76,250.03 L369.29,250.15 L369.82,250.27 L370.36,250.39 L370.89,250.51 L371.42,250.63 L371.95,250.75 L372.48,250.88 L373.01,251.00 L373.54,251.12 L374.07,251.25 L374.61,251.37 L375.14,251.49 L375.67,251.62 L376.20,251.75 L376.73,251.87 L377.26,252.00 L377.79,252.12 L378.32,252.25 L378.86,252.38 L379.39,252.51 L379.92,252.63 L380.45,252.76 L380.98,252.89 L381.51,253.02 L382.04,253.15 L382.57,253.28 L383.10,253.41 L383.64,253.55 L384.17,253.68 L384.70,253.81 L385.23,253.94 L385.76,254.08 L386.29,254.21 L386.82,254.34 L387.35,254.48 L387.89,254.61 L388.42,254.75 L388.95,254.89 L389.48,255.02 L390.01,255.16 L390.54,255.30 L391.07,255.43 L391.60,255.57 L392.14,255.71 L392.67,255.85 L393.20,255.99 L393.73,256.13 L394.26,256.27 L394.79,256.42 L395.32,256.56 L395.85,256.70 L396.39,256.84 L396.92,256.99 L397.45,257.13 L397.98,257.28 L398.51,257.42 L399.04,257.57 L399.57,257.71 L400.10,257.86 L400.63,258.01 L401.17,258.16 L401.70,258.31 L402.23,258.46 L402.76,258.61 L403.29,258.76 L403.82,258.91 L404.35,259.06 L404.88,259.21 L405.42,259.36 L405.95,259.52 L406.48,259.67 L407.01,259.83 L407.54,259.98 L408.07,260.14 L408.60,260.30 L409.13,260.45 L409.67,260.61 L410.20,260.77 L410.73,260.93 L411.26,261.09 L411.79,261.25 L412.32,261.41 L412.85,261.57 L413.38,261.74 L413.92,261.90 L414.45,262.06 L414.98,262.23 L415.51,262.39 L416.04,262.56 L416.57,262.73 L417.10,262.90 L417.63,263.06 L418.16,263.23 L418.70,263.40 L419.23,263.57 L419.76,263.75 L420.29,263.92 L420.82,264.09 L421.35,264.27 L421.88,264.44 L422.41,264.62 L422.95,264.79 L423.48,264.97 L424.01,265.15 L424.54,265.33 L425.07,265.51 L425.60,265.69 L426.13,265.87 L426.66,266.05 L427.20,266.23 L427.73,266.42 L428.26,266.60 L428.79,266.79 L429.32,266.97 L429.85,267.16 L430.38,267.35 L430.91,267.54 L431.45,267.73 L431.98,267.92 L432.51,268.11 L433.04,268.31 L433.57,268.50 L434.10,268.70 L434.63,268.89 L435.16,269.09 L435.69,269.29 L436.23,269.49 L436.76,269.69 L437.29,269.89 L437.82,270.09 L438.35,270.30 L438.88,270.50 L439.41,270.71 L439.94,270.91 L440.48,271.12 L441.01,271.33 L441.54,271.54 L442.07,271.75 L442.60,271.96 L443.13,272.18 L443.66,272.39 L444.19,272.61 L444.73,272.83 L445.26,273.05 L445.79,273.27 L446.32,273.49 L446.85,273.71 L447.38,273.93 L447.91,274.16 L448.44,274.39 L448.98,274.61 L449.51,274.84 L450.04,275.07 L450.57,275.31 L451.10,275.54 L451.63,275.78 L452.16,276.01 L452.69,276.25 L453.22,276.49 L453.76,276.73 L454.29,276.97 L454.82,277.22 L455.35,277.46 L455.88,277.71 L456.41,277.96 L456.94,278.21 L457.47,278.46 L458.01,278.72 L458.54,278.97 L459.07,279.23 L459.60,279.49 L460.13,279.75 L460.66,280.01 L461.19,280.27 L461.72,280.54 L462.26,280.81 L462.79,281.08 L463.32,281.35 L463.85,281.63 L464.38,281.90 L464.91,282.18 L465.44,282.46 L465.97,282.74 L466.51,283.03 L467.04,283.31 L467.57,283.60 L468.10,283.89 L468.63,284.18 L469.16,284.48 L469.69,284.78 L470.22,285.08 L470.75,285.38 L471.29,285.68 L471.82,285.99 L472.35,286.30 L472.88,286.61 L473.41,286.93 L473.94,287.25 L474.47,287.57 L475.00,287.89 L475.54,288.22 L476.07,288.54 L476.60,288.88 L477.13,289.21 L477.66,289.55 L478.19,289.89 L478.72,290.23 L479.25,290.58 L479.79,290.93 L480.32,291.28 L480.85,291.64 L481.38,292.00 L481.91,292.36 L482.44,292.73 L482.97,293.10 L483.50,293.47 L484.04,293.85 L484.57,294.23 L485.10,294.61 L485.63,295.00 L486.16,295.40 L486.69,295.79 L487.22,296.20 L487.75,296.60 L488.28,297.01 L488.82,297.43 L489.35,297.85 L489.88,298.27 L490.41,298.70 L490.94,299.13 L491.47,299.57 L492.00,300.02 L492.53,300.47 L493.07,300.92 L493.60,301.38 L494.13,301.85 L494.66,302.32 L495.19,302.80 L495.72,303.28 L496.25,303.77 L496.78,304.27 L497.32,304.77 L497.85,305.28 L498.38,305.80 L498.91,306.32 L499.44,306.86 L499.97,307.39 L500.50,307.94 L501.03,308.50 L501.57,309.06 L502.10,309.63 L502.63,310.21 L503.16,310.80 L503.69,311.40 L504.22,312.01 L504.75,312.63 L505.28,313.26 L505.81,313.90 L506.35,314.55 L506.88,315.21 L507.41,315.89 L507.94,316.57 L508.47,317.27 L509.00,317.99 L509.53,318.71 L510.06,319.45 L510.60,320.21 L511.13,320.98 L511.66,321.77 L512.19,322.57 L512.72,323.39 L513.25,324.23 L513.78,325.09 L514.31,325.97 L514.85,326.87 L515.38,327.80 L515.91,328.74 L516.44,329.71 L516.97,330.71 L517.50,331.73 L518.03,332.78 L518.56,333.87 L519.10,334.98 L519.63,336.13 L520.16,337.32 L520.69,338.54 L521.22,339.81 L521.75,341.12 L522.28,342.47 L522.81,343.88 L523.34,345.35 L523.88,346.87 L524.41,348.46 L524.94,350.12 L525.47,351.85 L526.00,353.67 L526.53,355.59 L527.06,357.61 L527.59,359.74 L528.13,362.00 L528.66,364.42 L529.19,366.99 L529.72,369.77 L530.25,372.76 L530.78,376.02 L531.31,379.59 L531.84,383.55 L532.38,387.98 L532.91,393.01 L533.44,398.84 L533.97,405.78" stroke="url(#gg)" stroke-linecap="round" stroke-dasharray="7.8 11.615 0.01 11.615" stroke-dashoffset="28.54"/>
</g>
<g stroke="#000" stroke-width="2.6" fill="none">
<path d="M109.0,23.099999999999998 L109.0,374.3"/>
<path d="M102.0,367.5 L539.4,367.5"/>
<path d="M102.0,329.22 L109.0,329.22"/>
<path d="M102.0,290.94 L109.0,290.94"/>
<path d="M102.0,252.66 L109.0,252.66"/>
<path d="M102.0,214.38 L109.0,214.38"/>
<path d="M102.0,176.10 L109.0,176.10"/>
<path d="M102.0,137.82 L109.0,137.82"/>
<path d="M102.0,99.54 L109.0,99.54"/>
<path d="M102.0,61.26 L109.0,61.26"/>
<path d="M102.0,22.98 L109.0,22.98"/>
<path d="M102.0,-15.30 L109.0,-15.30"/>
<path d="M151.54,367.5 L151.54,374.3"/>
<path d="M194.08,367.5 L194.08,374.3"/>
<path d="M236.62,367.5 L236.62,374.3"/>
<path d="M279.16,367.5 L279.16,374.3"/>
<path d="M321.70,367.5 L321.70,374.3"/>
<path d="M364.24,367.5 L364.24,374.3"/>
<path d="M406.78,367.5 L406.78,374.3"/>
<path d="M449.32,367.5 L449.32,374.3"/>
<path d="M491.86,367.5 L491.86,374.3"/>
<path d="M534.40,367.5 L534.40,374.3"/>
</g>
<text transform="translate(88.50,375.10) scale(0.97,1)" font-size="24" text-anchor="end" stroke-width="0.9">0.96</text>
<text transform="translate(88.50,336.82) scale(0.97,1)" font-size="24" text-anchor="end" stroke-width="0.9">0.97</text>
<text transform="translate(88.50,298.54) scale(0.97,1)" font-size="24" text-anchor="end" stroke-width="0.9">0.98</text>
<text transform="translate(88.50,260.26) scale(0.97,1)" font-size="24" text-anchor="end" stroke-width="0.9">0.99</text>
<text transform="translate(88.50,221.98) scale(0.97,1)" font-size="24" text-anchor="end" stroke-width="0.9">1</text><g fill="#fff"><rect x="76.03" y="217.99" width="4.93" height="5.99"/><rect x="83.91" y="217.99" width="4.55" height="5.99"/></g>
<text transform="translate(88.50,183.70) scale(0.97,1)" font-size="24" text-anchor="end" stroke-width="0.9">1.01</text><g fill="#fff"><rect x="43.66" y="179.71" width="4.93" height="5.99"/><rect x="51.55" y="179.71" width="4.55" height="5.99"/><rect x="76.03" y="179.71" width="4.93" height="5.99"/><rect x="83.91" y="179.71" width="4.55" height="5.99"/></g>
<text transform="translate(88.50,145.42) scale(0.97,1)" font-size="24" text-anchor="end" stroke-width="0.9">1.02</text><g fill="#fff"><rect x="43.66" y="141.43" width="4.93" height="5.99"/><rect x="51.55" y="141.43" width="4.55" height="5.99"/></g>
<text transform="translate(88.50,107.14) scale(0.97,1)" font-size="24" text-anchor="end" stroke-width="0.9">1.03</text><g fill="#fff"><rect x="43.66" y="103.15" width="4.93" height="5.99"/><rect x="51.55" y="103.15" width="4.55" height="5.99"/></g>
<text transform="translate(88.50,68.86) scale(0.97,1)" font-size="24" text-anchor="end" stroke-width="0.9">1.04</text><g fill="#fff"><rect x="43.66" y="64.87" width="4.93" height="5.99"/><rect x="51.55" y="64.87" width="4.55" height="5.99"/></g>
<text transform="translate(88.50,30.58) scale(0.97,1)" font-size="24" text-anchor="end" stroke-width="0.9">1.05</text><g fill="#fff"><rect x="43.66" y="26.59" width="4.93" height="5.99"/><rect x="51.55" y="26.59" width="4.55" height="5.99"/></g>
<text transform="translate(111.00,397.30) scale(0.97,1)" font-size="24" text-anchor="middle" stroke-width="0.9">0</text>
<text transform="translate(153.54,397.30) scale(0.97,1)" font-size="24" text-anchor="middle" stroke-width="0.9">0.1</text><g fill="#fff"><rect x="157.25" y="393.31" width="4.93" height="5.99"/><rect x="165.14" y="393.31" width="4.55" height="5.99"/></g>
<text transform="translate(196.08,397.30) scale(0.97,1)" font-size="24" text-anchor="middle" stroke-width="0.9">0.2</text>
<text transform="translate(238.62,397.30) scale(0.97,1)" font-size="24" text-anchor="middle" stroke-width="0.9">0.3</text>
<text transform="translate(281.16,397.30) scale(0.97,1)" font-size="24" text-anchor="middle" stroke-width="0.9">0.4</text>
<text transform="translate(323.70,397.30) scale(0.97,1)" font-size="24" text-anchor="middle" stroke-width="0.9">0.5</text>
<text transform="translate(366.24,397.30) scale(0.97,1)" font-size="24" text-anchor="middle" stroke-width="0.9">0.6</text>
<text transform="translate(408.78,397.30) scale(0.97,1)" font-size="24" text-anchor="middle" stroke-width="0.9">0.7</text>
<text transform="translate(451.32,397.30) scale(0.97,1)" font-size="24" text-anchor="middle" stroke-width="0.9">0.8</text>
<text transform="translate(493.86,397.30) scale(0.97,1)" font-size="24" text-anchor="middle" stroke-width="0.9">0.9</text>
<text transform="translate(536.40,397.30) scale(0.97,1)" font-size="24" text-anchor="middle" stroke-width="0.9">1</text><g fill="#fff"><rect x="530.40" y="393.31" width="4.93" height="5.99"/><rect x="538.29" y="393.31" width="4.55" height="5.99"/></g>
<text transform="translate(320.73,424.8) scale(0.95,1)" font-size="24" font-style="italic" stroke-width="0.8">f</text>
<text transform="translate(20.3,261.3) rotate(-90)" font-size="24" stroke-width="0.7"><tspan x="-1.67" y="0">R</tspan><tspan x="15.37" y="3.4" font-size="14.5">p</tspan><tspan x="22.60" y="0">/</tspan><tspan x="28.23" y="0">R</tspan><tspan x="47.23" y="3.8" font-size="14.5">0</tspan><tspan x="57" y="0"> </tspan><tspan x="63.59" y="0">o</tspan><tspan x="76.41" y="0">r</tspan><tspan x="86" y="0"> </tspan><tspan x="90.43" y="0">R</tspan><tspan x="108.20" y="3.8" font-size="14.5">s</tspan><tspan x="115.40" y="0">/</tspan><tspan x="121.53" y="0">R</tspan><tspan x="138.43" y="3.8" font-size="14.5">0</tspan></text>
<path d="M146.5,48.00 L199.2,48.00" stroke="#FF0000" stroke-width="3.6" fill="none"/>
<text transform="translate(202.50,55.40) scale(0.97,1)" font-size="24" text-anchor="start" stroke-width="0.9">Rp/R0, 1.01</text><g fill="#fff"><rect x="281.90" y="51.41" width="4.93" height="5.99"/><rect x="289.78" y="51.41" width="4.55" height="5.99"/><rect x="314.26" y="51.41" width="4.93" height="5.99"/><rect x="322.15" y="51.41" width="4.55" height="5.99"/></g>
<path d="M146.5,75.30 L199.2,75.30" stroke="#3300E0" stroke-width="3.6" fill="none"/>
<text transform="translate(202.50,82.70) scale(0.97,1)" font-size="24" text-anchor="start" stroke-width="0.9">Rp/R0, 0.99</text>
<path d="M148.20,102.60 L153.10,102.60 M159.40,102.60 L164.10,102.60 M170.70,102.60 L175.50,102.60 M181.90,102.60 L186.80,102.60 M193.60,102.60 L197.40,102.60" stroke="#000" stroke-width="3.6" fill="none" stroke-linecap="round"/>
<text transform="translate(202.50,110.20) scale(0.97,1)" font-size="24" text-anchor="start" stroke-width="0.9">R/R0, 1.00</text><g fill="#fff"><rect x="268.95" y="106.21" width="4.93" height="5.99"/><rect x="276.84" y="106.21" width="4.55" height="5.99"/></g>
<path d="M148.10,130.00 L156.20,130.00 M168.20,130.00 L176.10,130.00 M187.90,130.00 L196.30,130.00" stroke="#C43C4C" stroke-width="3.6" fill="none" stroke-linecap="round"/>
<text transform="translate(202.50,137.10) scale(0.97,1)" font-size="24" text-anchor="start" stroke-width="0.9">Rs/R0, 1.01</text><g fill="#fff"><rect x="280.59" y="133.11" width="4.93" height="5.99"/><rect x="288.48" y="133.11" width="4.55" height="5.99"/><rect x="312.95" y="133.11" width="4.93" height="5.99"/><rect x="320.84" y="133.11" width="4.55" height="5.99"/></g>
<path d="M148.00,156.50 L156.80,156.50 M167.99,156.50 L168.01,156.50 M179.20,156.50 L188.00,156.50" stroke="#00B050" stroke-width="3.6" fill="none" stroke-linecap="round"/>
<text transform="translate(202.50,163.80) scale(0.97,1)" font-size="24" text-anchor="start" stroke-width="0.9">Rs/R0, 0.99</text>
</svg>
</body></html>
